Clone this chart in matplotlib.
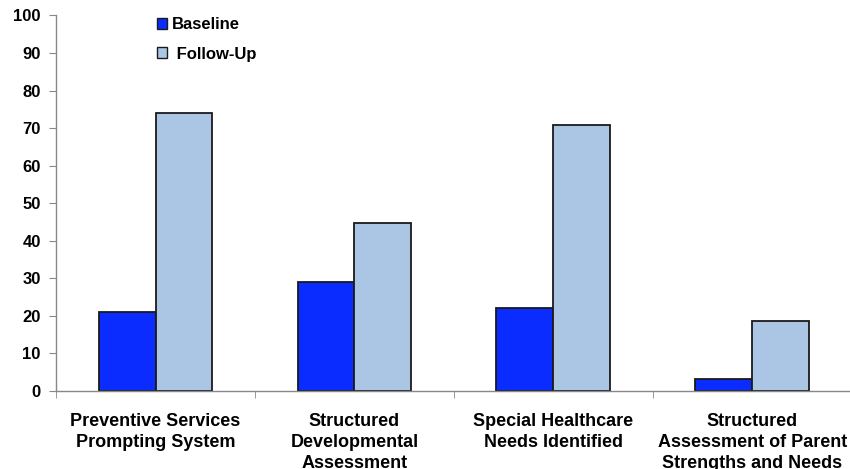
import numpy as np
import matplotlib.pyplot as plt
from matplotlib.patches import Patch

plt.rcParams['font.family'] = ['Liberation Sans', 'DejaVu Sans']

categories = ["Preventive Services\nPrompting System",
              "Structured\nDevelopmental\nAssessment",
              "Special Healthcare\nNeeds Identified",
              "Structured\nAssessment of Parent\nStrengths and Needs"]
baseline = [21, 29, 22, 3]
follow_up = [74, 44.6, 70.7, 18.6]
yticks = [0, 10, 20, 30, 40, 50, 60, 70, 80, 90, 100]

c_base = '#0a2cff'
c_follow = '#aac6e4'

fig = plt.figure(figsize=(8.5, 4.69), dpi=100)
ax = fig.add_axes([0.066, 0.167, 0.936, 0.8])

x = np.arange(len(categories))
w = 0.286
ax.bar(x - w / 2, baseline, w, color=c_base, edgecolor='#1a1a1a', linewidth=1.3)
ax.bar(x + w / 2, follow_up, w, color=c_follow, edgecolor='#1a1a1a', linewidth=1.3)

ax.set_xlim(-0.5, len(categories) - 0.5)
ax.set_ylim(0, 100)
ax.set_yticks(yticks)
ax.set_yticklabels([str(v) for v in yticks], fontsize=12, fontweight='bold')

ax.set_xticks(x)
ax.set_xticklabels(categories, fontsize=13, fontweight='bold', linespacing=1.3)
ax.set_xticks(np.arange(-0.5, len(categories)), minor=True)
ax.tick_params(axis='x', which='major', length=0, pad=16)
ax.tick_params(axis='x', which='minor', length=5, color='#888888', direction='out')
ax.tick_params(axis='y', length=5, color='#888888', pad=6)

for s in ['top', 'right']:
    ax.spines[s].set_visible(False)
for s in ['left', 'bottom']:
    ax.spines[s].set_color('#888888')
    ax.spines[s].set_linewidth(1)

handles = [Patch(facecolor=c_base, edgecolor='#1a1a1a', linewidth=1),
           Patch(facecolor=c_follow, edgecolor='#1a1a1a', linewidth=1)]
ax.legend(handles, ['Baseline', ' Follow-Up'], loc='upper left',
          bbox_to_anchor=(0.167, 0.995), bbox_transform=fig.transFigure,
          frameon=False, handlelength=0.6, handleheight=0.6,
          handletextpad=0.3, labelspacing=0.85,
          prop={'weight': 'bold', 'size': 12})

fig.savefig('out.png', dpi=100)
